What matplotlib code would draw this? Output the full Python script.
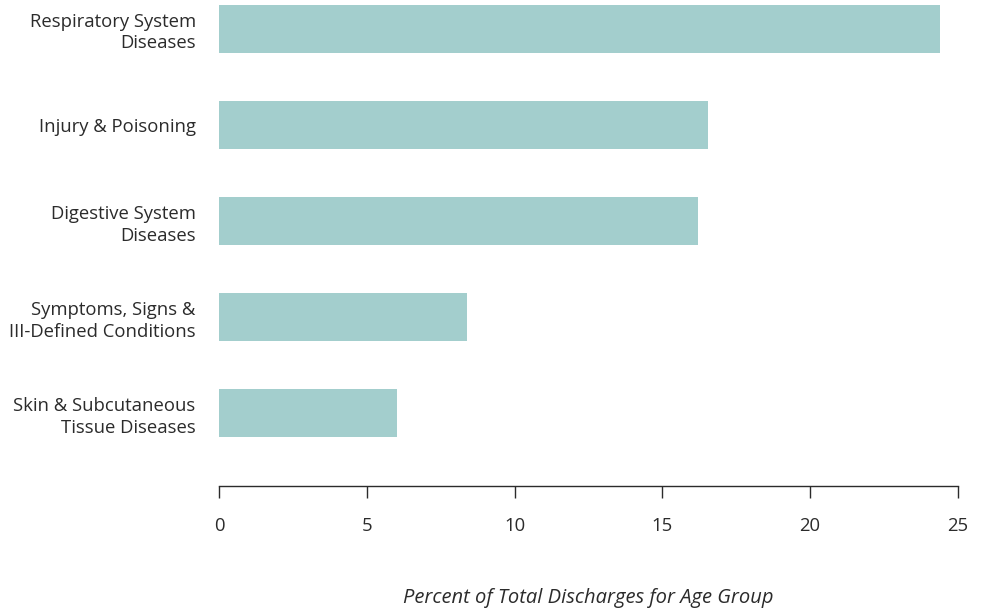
import matplotlib
matplotlib.use('Agg')
import matplotlib.pyplot as plt

# data, top to bottom
categories = ['Respiratory System\nDiseases', 'Injury & Poisoning',
              'Digestive System\nDiseases', 'Symptoms, Signs &\nIII-Defined Conditions',
              'Skin & Subcutaneous\nTissue Diseases']
percent = [24.4, 16.55, 16.2, 8.4, 6.0]
xticks = [0, 5, 10, 15, 20, 25]

plt.rcParams['font.family'] = ['Open Sans', 'DejaVu Sans']
text_color = '#2b2b2b'

fig = plt.figure(figsize=(9.82, 6.11), dpi=100)
ax = fig.add_axes([219.3 / 982, 125 / 611, (957.7 - 219.3) / 982, 486 / 611])

pos = list(range(len(categories)))
ax.barh(pos, percent, height=0.5, color='#a3cecd')

ax.set_xlim(0, 25)
ax.set_ylim(4.76, -0.302)
ax.set_xticks(xticks)
ax.set_xticklabels([str(t) for t in xticks])
ax.set_yticks(pos)
ax.set_yticklabels(categories, ha='right', multialignment='right', linespacing=1.25)

for s in ['top', 'right', 'left']:
    ax.spines[s].set_visible(False)
ax.spines['bottom'].set_color(text_color)
ax.spines['bottom'].set_linewidth(1.0)

ax.tick_params(axis='x', length=8.6, width=1.0, color=text_color, pad=14,
               labelsize=13.3, labelcolor=text_color)
ax.tick_params(axis='y', length=0, pad=17, labelsize=13.3, labelcolor=text_color)

fig.text((219.3 + 957.7) / 2 / 982, 1 - 598 / 611, 'Percent of Total Discharges for Age Group',
         ha='center', va='center', style='italic', fontsize=14.5, color=text_color)

fig.savefig('out.png', dpi=100)
